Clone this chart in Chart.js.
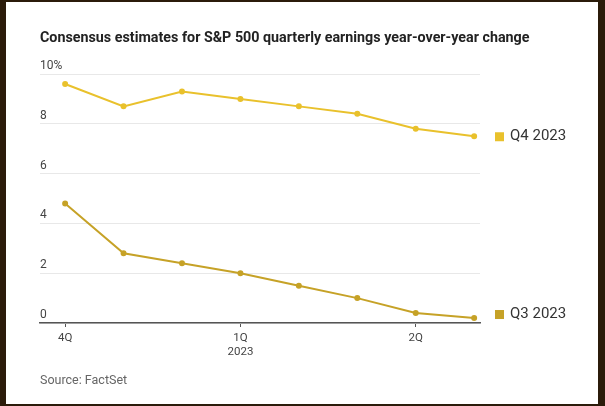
<!DOCTYPE html>
<html><head><meta charset="utf-8">
<script src="https://cdn.jsdelivr.net/npm/chart.js@4"></script>
<style>
body{margin:0;background:#2b1b0a;width:605px;height:406px;overflow:hidden;font-family:Roboto,sans-serif}
#box{position:absolute;left:6px;top:2px;width:592px;height:402px;background:#fff}
#title{position:absolute;left:40px;top:29px;font-size:14.3px;font-weight:bold;color:#222;white-space:nowrap}
#src{position:absolute;left:40px;top:372px;font-size:12.5px;color:#666}
canvas{position:absolute;left:0;top:0}
</style></head><body>
<div id="box"></div>
<canvas id="c" width="605" height="406"></canvas>
<div id="title">Consensus estimates for S&amp;P 500 quarterly earnings year-over-year change</div>
<div id="src">Source: FactSet</div>
<script>
var xIdx = [0, 1, 2, 3, 4, 5, 6, 7];
var q4 = [9.6, 8.7, 9.3, 9.0, 8.7, 8.4, 7.8, 7.5];
var q3 = [4.8, 2.8, 2.4, 2.0, 1.5, 1.0, 0.4, 0.2];
var xTickPos = [0, 3, 6];
var xTickText = {0: '4Q', 3: ['1Q', '2023'], 6: '2Q'};
var yTicks = [0, 2, 4, 6, 8, 10];
var seriesNames = ['Q4 2023', 'Q3 2023'];
var colors = ['#e9c12c', '#c6a227'];

function pts(v) { return v.map(function (y, i) { return {x: xIdx[i], y: y}; }); }

var labelsPlugin = {
    id: 'labels',
    afterDraw: function (chart) {
        var ctx = chart.ctx, ys = chart.scales.y, a = chart.chartArea;
        ctx.save();
        ctx.font = '12px Roboto';
        ctx.fillStyle = '#444';
        ctx.textBaseline = 'bottom';
        yTicks.forEach(function (t) {
            ctx.fillText(t === 10 ? '10%' : String(t), 40, ys.getPixelForValue(t) - 2);
        });
        ctx.font = '15px Roboto';
        ctx.textBaseline = 'middle';
        chart.data.datasets.forEach(function (ds, i) {
            var m = chart.getDatasetMeta(i).data;
            var y = m[m.length - 1].y - (i === 0 ? 0 : 4);
            ctx.fillStyle = colors[i];
            ctx.fillRect(a.right + 15, y - 4, 9, 9);
            ctx.fillStyle = '#333';
            ctx.fillText(seriesNames[i], a.right + 30, y);
        });
        ctx.restore();
    }
};

new Chart(document.getElementById('c'), {
    type: 'line',
    data: {
        datasets: [
            {label: seriesNames[0], data: pts(q4), borderColor: colors[0], backgroundColor: colors[0], borderWidth: 2, pointRadius: 2, tension: 0},
            {label: seriesNames[1], data: pts(q3), borderColor: colors[1], backgroundColor: colors[1], borderWidth: 2, pointRadius: 2, tension: 0}
        ]
    },
    options: {
        responsive: false,
        animation: false,
        layout: {padding: {left: 40, right: 125, top: 74, bottom: 33}},
        plugins: {legend: {display: false}, tooltip: {enabled: false}},
        scales: {
            x: {
                type: 'linear', min: -0.43, max: 7.1,
                afterBuildTicks: function (s) { s.ticks = xTickPos.map(function (v) { return {value: v}; }); },
                afterFit: function (s) { s.height = 50; },
                ticks: {callback: function (v) { return xTickText[v]; }, color: '#444', font: {family: 'Roboto', size: 11.5}, maxRotation: 0, padding: 4},
                grid: {drawOnChartArea: false, drawTicks: true, tickLength: 4, color: '#555'},
                border: {color: '#555', width: 1.5}
            },
            y: {
                min: 0, max: 10,
                afterBuildTicks: function (s) { s.ticks = yTicks.map(function (v) { return {value: v}; }); },
                afterFit: function (s) { s.width = 0; },
                ticks: {display: false},
                grid: {color: '#e8e8e8', drawTicks: false},
                border: {display: false}
            }
        }
    },
    plugins: [labelsPlugin]
});
</script>
</body></html>
